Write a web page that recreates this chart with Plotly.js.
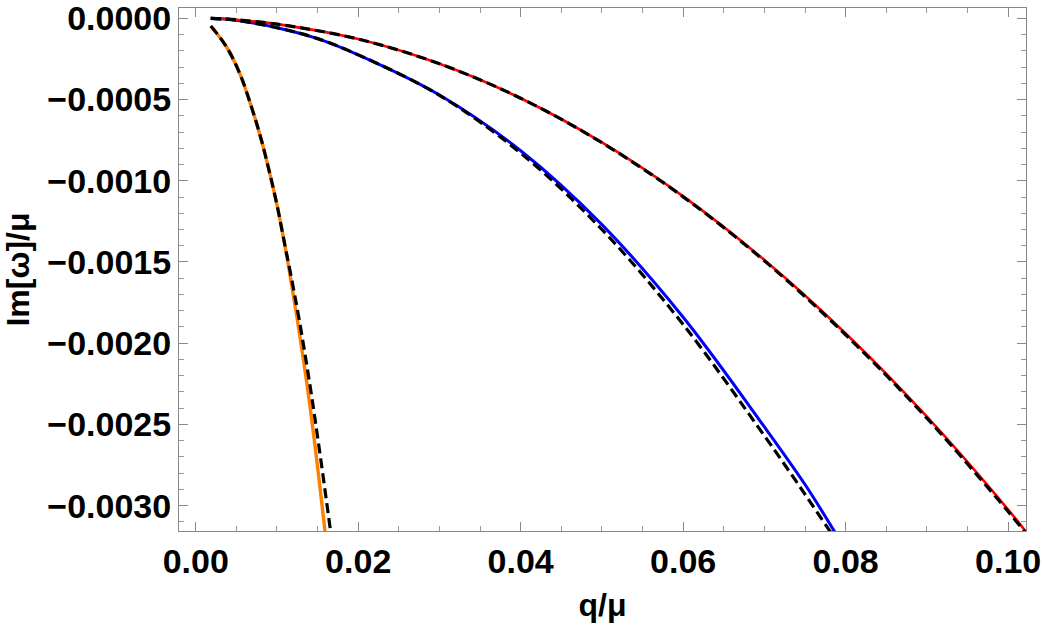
<!DOCTYPE html>
<html>
<head>
<meta charset="utf-8">
<script src="https://cdn.plot.ly/plotly-3.0.1.min.js"></script>
<style>html,body{margin:0;padding:0;background:#fff;}#chart{width:1042px;height:625px;}</style>
</head>
<body>
<div id="chart"></div>
<script>
// Red curve (solid) and its dashed approximation
const redQ = [0.00185, 0.005, 0.01, 0.02, 0.03, 0.04, 0.05, 0.06, 0.07, 0.08, 0.09, 0.10, 0.1025];
const redY = [0, -0.000009, -0.000036, -0.000128, -0.00028, -0.000492, -0.000764, -0.001096, -0.001488, -0.00194, -0.002452, -0.003024, -0.00318];
const redDashQ = [0.00185, 0.005, 0.01, 0.02, 0.03, 0.04, 0.05, 0.06, 0.07, 0.08, 0.09, 0.10, 0.1025];
const redDashY = [0, -0.000009, -0.000036, -0.000128, -0.00028, -0.000492, -0.000766, -0.001099, -0.001493, -0.001948, -0.002462, -0.003036, -0.00319];

// Blue curve (solid) and its dashed approximation
const blueQ = [0.00185, 0.005, 0.01, 0.015, 0.02, 0.03, 0.04, 0.05, 0.06, 0.07, 0.075, 0.0790];
const blueY = [0, -0.000012, -0.000058, -0.000125, -0.000225, -0.000472, -0.000815, -0.00127, -0.00184, -0.002515, -0.00287, -0.00319];
const blueDashQ = [0.00185, 0.005, 0.01, 0.015, 0.02, 0.03, 0.04, 0.05, 0.06, 0.07, 0.075, 0.0785];
const blueDashY = [0, -0.000012, -0.000058, -0.000125, -0.000225, -0.000474, -0.00083, -0.0013, -0.001885, -0.00257, -0.00293, -0.00319];

// Orange curve (solid) and its dashed approximation
const orangeQ = [0.00185, 0.00378, 0.00541, 0.00685, 0.00808, 0.00911, 0.01005, 0.01085, 0.01157, 0.01245, 0.01368, 0.01475, 0.01592, 0.01606];
const orangeY = [-0.0000474, -0.000175, -0.000339, -0.000544, -0.000749, -0.000954, -0.00116, -0.001365, -0.00157, -0.001837, -0.002248, -0.002658, -0.00316, -0.00322];
const orangeDashQ = [0.00185, 0.00378, 0.00541, 0.00685, 0.00808, 0.00911, 0.01005, 0.01085, 0.01167, 0.01267, 0.01403, 0.01523, 0.0166, 0.01675];
const orangeDashY = [-0.0000474, -0.000175, -0.000339, -0.000544, -0.000749, -0.000954, -0.00116, -0.001365, -0.00157, -0.001837, -0.002248, -0.002658, -0.00316, -0.00322];

const xTitle = "q/μ";
const yTitle = "Im[ω]/μ";

const dashStyle = {color: "#000000", width: 3.2, dash: "10px,5px", shape: "spline"};
const traces = [
  {x: orangeQ, y: orangeY, mode: "lines", line: {color: "#FF7F00", width: 3.4, shape: "spline"}, hoverinfo: "skip"},
  {x: blueQ, y: blueY, mode: "lines", line: {color: "#0000FF", width: 3, shape: "spline"}, hoverinfo: "skip"},
  {x: redQ, y: redY, mode: "lines", line: {color: "#FF0000", width: 2.6, shape: "spline"}, hoverinfo: "skip"},
  {x: orangeDashQ, y: orangeDashY, mode: "lines", line: dashStyle, hoverinfo: "skip"},
  {x: blueDashQ, y: blueDashY, mode: "lines", line: dashStyle, hoverinfo: "skip"},
  {x: redDashQ, y: redDashY, mode: "lines", line: dashStyle, hoverinfo: "skip"}
];

const tickFont = {family: "Liberation Sans, Arial, sans-serif", size: 34, color: "#000", weight: "bold"};
const titleFont = {family: "Liberation Sans, Arial, sans-serif", size: 32, color: "#000", weight: "bold"};
const layout = {
  width: 1042, height: 625,
  margin: {l: 179, r: 16, t: 8, b: 94},
  paper_bgcolor: "#fff", plot_bgcolor: "#fff",
  showlegend: false,
  font: tickFont,
  xaxis: {
    range: [-0.00206, 0.1022],
    tick0: 0, dtick: 0.02, tickformat: ".2f",
    ticks: "inside", ticklen: 9, tickcolor: "#888", tickwidth: 1,
    minor: {dtick: 0.005, ticks: "inside", ticklen: 5, tickcolor: "#999", tickwidth: 1, showgrid: false},
    showline: true, linecolor: "#888", linewidth: 1, mirror: "allticks",
    showgrid: false, zeroline: false,
    ticklabeloverflow: "allow",
    tickfont: tickFont,
    title: {text: xTitle, font: titleFont, standoff: 14}
  },
  yaxis: {
    range: [-0.003156, 0.0000634],
    tick0: 0, dtick: 0.0005, tickformat: ".4f",
    ticks: "inside", ticklen: 9, tickcolor: "#888", tickwidth: 1,
    minor: {dtick: 0.0001, ticks: "inside", ticklen: 5, tickcolor: "#999", tickwidth: 1, showgrid: false},
    showline: true, linecolor: "#888", linewidth: 1, mirror: "allticks",
    showgrid: false, zeroline: false,
    ticklabeloverflow: "allow",
    tickfont: tickFont,
    title: {text: yTitle, font: titleFont, standoff: 12}
  }
};

Plotly.newPlot("chart", traces, layout, {staticPlot: true, displayModeBar: false});
</script>
</body>
</html>
